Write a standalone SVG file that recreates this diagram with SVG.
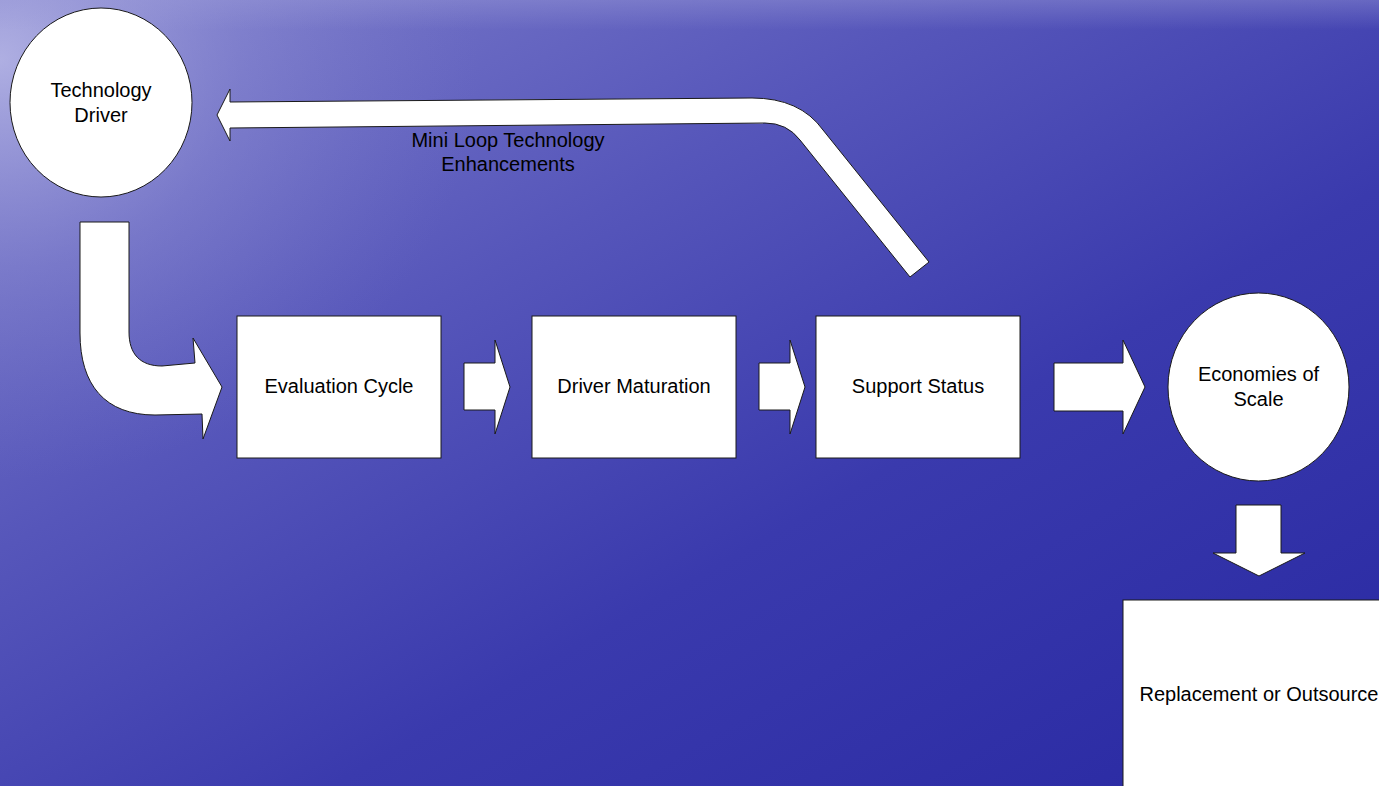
<svg xmlns="http://www.w3.org/2000/svg" width="1379" height="786" viewBox="0 0 1379 786">
<defs>
<linearGradient id="bg" x1="0" y1="0" x2="1" y2="1">
<stop offset="0" stop-color="#8080cc"/>
<stop offset="0.35" stop-color="#5656ba"/>
<stop offset="0.62" stop-color="#3a3aad"/>
<stop offset="1" stop-color="#2828a2"/>
</linearGradient>
<radialGradient id="hl" cx="0" cy="0" r="1" gradientUnits="userSpaceOnUse" gradientTransform="translate(0,60) scale(480,420)">
<stop offset="0" stop-color="#c0c0ea" stop-opacity="0.75"/>
<stop offset="0.5" stop-color="#9c9cda" stop-opacity="0.3"/>
<stop offset="1" stop-color="#8080cc" stop-opacity="0"/>
</radialGradient>
<linearGradient id="top" x1="0" y1="0" x2="0" y2="1">
<stop offset="0" stop-color="#9a9ad8" stop-opacity="0.4"/>
<stop offset="1" stop-color="#9a9ad8" stop-opacity="0"/>
</linearGradient>
<style>
.shape{fill:#ffffff;stroke:#1a1a1a;stroke-width:1}
.t{font-family:"Liberation Sans",Arial,sans-serif;font-size:20px;fill:#000000;text-anchor:middle}
</style>
</defs>
<rect x="0" y="0" width="1379" height="786" fill="url(#bg)"/>
<rect x="0" y="0" width="1379" height="786" fill="url(#hl)"/>
<rect x="0" y="0" width="1379" height="30" fill="url(#top)"/>

<g id="connectors">
<path class="shape" d="M217,115 L230,89 L230,102 L752,98 Q800,98 823,130 L929,262 L910,277 L800,140 Q787,123 765,123 L230,128 L230,141 Z"/>
<path class="shape" d="M80,222 L129,222 L129,332 C129,354 140,366 162,366 L195,363 L193,338 L222,387 L203,439 L202,414 L155,415 C105,415 80,385 80,333 Z"/>
<path class="shape" d="M464,363 L495,363 L495,340 L510,387 L495,434 L495,410 L464,410 Z"/>
<path class="shape" d="M759,363 L790,363 L790,340 L805,387 L790,434 L790,410 L759,410 Z"/>
<path class="shape" d="M1054,363 L1123,363 L1123,340 L1145,387 L1123,434 L1123,411 L1054,411 Z"/>
<path class="shape" d="M1236,505 L1281,505 L1281,553 L1305,553 L1259,576 L1213,553 L1236,553 Z"/>
</g>

<g id="technology-driver">
<ellipse class="shape" cx="101" cy="102.5" rx="91" ry="94.5"/>
<text class="t" x="101" y="97">Technology</text>
<text class="t" x="101" y="122">Driver</text>
</g>

<g id="evaluation-cycle">
<rect class="shape" x="237" y="316" width="204" height="142"/>
<text class="t" x="339" y="393">Evaluation Cycle</text>
</g>

<g id="driver-maturation">
<rect class="shape" x="532" y="316" width="204" height="142"/>
<text class="t" x="634" y="393">Driver Maturation</text>
</g>

<g id="support-status">
<rect class="shape" x="816" y="316" width="204" height="142"/>
<text class="t" x="918" y="393">Support Status</text>
</g>

<g id="economies-of-scale">
<ellipse class="shape" cx="1258.5" cy="387" rx="90.5" ry="94"/>
<text class="t" x="1258.5" y="381">Economies of</text>
<text class="t" x="1258.5" y="406">Scale</text>
</g>

<g id="replacement-or-outsource">
<rect class="shape" x="1123" y="600" width="272" height="190"/>
<text class="t" x="1259" y="701">Replacement or Outsource</text>
</g>

<g id="mini-loop-label">
<text class="t" x="508" y="147">Mini Loop Technology</text>
<text class="t" x="508" y="171">Enhancements</text>
</g>
</svg>
